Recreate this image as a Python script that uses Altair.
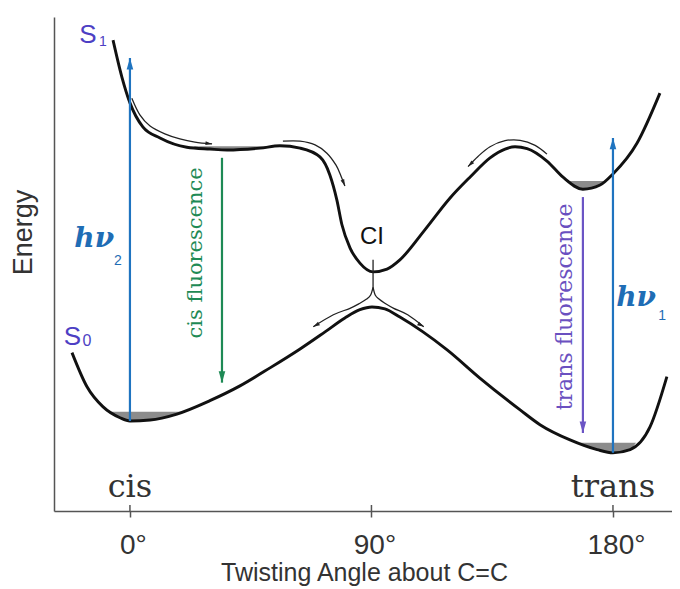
import altair as alt
import pandas as pd

# ---- potential energy curves (angle in degrees, energy in arbitrary units) ----
s1_angle = [-6.3, -3.0, 0.0, 4.8, 11.2, 21.2, 29.8, 36.2, 48.5, 55.9, 63.4, 70.8, 74.5, 77.1, 79.0,
            82.0, 85.7, 90.6, 95.8, 100.6, 109.9, 119.3, 126.7, 134.2, 139.8, 143.5, 148.0, 155.4,
            161.4, 168.8, 175.2, 180.0, 189.0, 197.5]
s1_energy = [100.0, 92.0, 86.4, 81.2, 78.8, 76.8, 76.4, 76.2, 76.6, 77.1, 76.6, 74.7, 70.8, 65.4, 60.0,
             55.0, 51.7, 49.8, 50.4, 52.4, 58.9, 65.8, 70.3, 74.5, 76.4, 76.9, 76.5, 73.8,
             70.3, 67.7, 68.6, 71.0, 77.7, 88.5]
s0_angle = [-21.6, -16.0, -10.1, -3.7, 0.0, 7.5, 17.5, 29.8, 41.0, 52.2, 63.4, 72.7, 80.1, 85.7,
            90.2, 95.0, 100.6, 109.2, 118.2, 130.4, 145.4, 152.8, 164.0, 174.1, 180.0, 186.4,
            193.8, 200.1]
s0_energy = [32.3, 24.9, 20.6, 18.2, 17.5, 17.7, 19.0, 21.9, 25.1, 29.0, 33.1, 36.8, 39.8, 41.6,
             42.2, 41.8, 40.0, 36.8, 32.9, 26.8, 19.9, 16.7, 13.4, 11.3, 10.6, 11.3,
             16.2, 27.1]

# ---- grey population wells: (angle, energy of curve, level of fill top) ----
well_s0_cis_angle = [-7.0, -3.7, 0.0, 7.5, 13.0, 17.5, 19.5]
well_s0_cis_energy = [19.5, 18.2, 17.5, 17.7, 18.2, 19.0, 19.5]
well_s0_cis_top = 19.5
well_s0_trans_angle = [167.7, 170.0, 174.1, 180.0, 184.0, 186.4, 188.6]
well_s0_trans_energy = [12.8, 12.2, 11.3, 10.6, 10.8, 11.3, 12.8]
well_s0_trans_top = 12.8
well_s1_trans_angle = [163.5, 165.5, 168.8, 172.0, 175.2, 176.8]
well_s1_trans_energy = [69.5, 68.5, 67.7, 67.8, 68.6, 69.5]
well_s1_trans_top = 69.5
well_s1_cis_angle = [24.0, 29.8, 36.2, 42.0, 48.5, 52.0]
well_s1_cis_energy = [76.7, 76.4, 76.2, 76.3, 76.6, 76.8]
well_s1_cis_top = 77.0

# ---- thin relaxation arrows ----
slide1_angle = [0.7, 3.7, 7.5, 13.0, 18.6, 24.2, 30.6]
slide1_energy = [87.4, 83.8, 81.4, 79.7, 78.6, 77.9, 77.5]
slide2_angle = [57.0, 63.4, 69.0, 73.4, 76.8, 78.6, 80.1]
slide2_energy = [78.1, 78.1, 77.3, 75.5, 72.9, 70.6, 68.4]
hump_angle = [155.4, 151.0, 145.4, 139.8, 134.2, 129.7, 126.0]
hump_energy = [75.3, 77.2, 78.3, 78.2, 76.9, 74.8, 72.6]
ci_stub_angle = [90.6, 90.6]
ci_stub_energy = [52.4, 46.5]
ci_left_angle = [90.6, 89.7, 88.2, 85.7, 82.0, 75.8, 68.3]
ci_left_energy = [46.5, 44.8, 43.9, 43.0, 41.9, 40.5, 37.9]
ci_right_angle = [90.6, 91.4, 92.8, 95.0, 98.3, 103.5, 109.5]
ci_right_energy = [46.5, 44.8, 43.9, 43.0, 41.9, 40.5, 37.9]
thin_head_angle = [30.6, 80.1, 126.0, 68.3, 109.5]
thin_head_energy = [77.5, 68.4, 72.6, 37.9, 37.9]
thin_head_dir = [97, 158, 225, 240, 120]

# ---- vertical transitions ----
vt_name = ["hv2", "cis fluorescence", "trans fluorescence", "hv1"]
vt_angle = [0.0, 34.3, 168.8, 180.0]
vt_from = [17.5, 74.5, 66.0, 10.6]
vt_to = [96.1, 25.8, 14.9, 78.8]
vt_color = ["#1f74c0", "#1e8a55", "#6b55c5", "#1f74c0"]
vt_dir = [0, 180, 180, 0]

# ---- labels ----
x_ticks = [0, 90, 180]
BLUE_TXT = "#1f6db5"
LABEL_C = "#4d3fc4"

sans_text = ["S", "1", "S", "0", "CI", "2", "1"]
sans_angle = [-15.7, -10.1, -21.4, -16.0, 90.2, -4.5, 198.3]
sans_energy = [101.1, 99.6, 35.7, 34.8, 57.4, 52.2, 40.3]
sans_size = [26, 14, 26, 16, 24, 14, 14]
sans_color = [LABEL_C, LABEL_C, LABEL_C, LABEL_C, "#111111", BLUE_TXT, BLUE_TXT]

hv_text = ["hν", "hν"]
hv_angle = [-13.3, 188.6]
hv_energy = [57.0, 44.2]

fl_text = ["cis fluorescence", "trans fluorescence"]
fl_angle = [24.6, 162.1]
fl_energy = [53.9, 42.2]
fl_size = [21, 22]
fl_color = ["#1e8a55", "#6a50c0"]

iso_text = ["cis", "trans"]
iso_angle = [0.0, 180.0]
iso_energy = [1.1, 1.1]

# ---------------------------------------------------------------
def long(groups):
    rows = []
    for g, xs_, ys_ in groups:
        for i, (a, e) in enumerate(zip(xs_, ys_)):
            rows.append({"g": g, "x": a, "E": e, "o": i})
    return pd.DataFrame(rows)

thick_df = long([("S1", s1_angle, s1_energy), ("S0", s0_angle, s0_energy)])
thin_df = long([("slide1", slide1_angle, slide1_energy), ("slide2", slide2_angle, slide2_energy),
                ("hump", hump_angle, hump_energy), ("stub", ci_stub_angle, ci_stub_energy),
                ("ciL", ci_left_angle, ci_left_energy), ("ciR", ci_right_angle, ci_right_energy)])

well_rows = []
for g, xs_, ys_, top in [("a", well_s0_cis_angle, well_s0_cis_energy, well_s0_cis_top),
                         ("b", well_s0_trans_angle, well_s0_trans_energy, well_s0_trans_top),
                         ("c", well_s1_trans_angle, well_s1_trans_energy, well_s1_trans_top),
                         ("d", well_s1_cis_angle, well_s1_cis_energy, well_s1_cis_top)]:
    for a, e in zip(xs_, ys_):
        well_rows.append({"g": g, "x": a, "E": e, "top": top})
well_df = pd.DataFrame(well_rows)

vt_df = pd.DataFrame({"name": vt_name, "x": vt_angle, "E": vt_from, "E2": vt_to,
                      "color": vt_color, "dir": vt_dir})
thin_heads_df = pd.DataFrame({"x": thin_head_angle, "E": thin_head_energy, "dir": thin_head_dir})
tick_df = pd.DataFrame({"x": x_ticks})

XD = [-28.3, 202.0]
YD = [-2.0, 105.0]
xs = alt.Scale(domain=XD, nice=False, zero=False)
ys = alt.Scale(domain=YD, nice=False, zero=False)

AXX = alt.Axis(values=x_ticks, labelExpr="datum.value + '°'", grid=False,
               labelFont="Liberation Sans", labelFontSize=28, labelColor="#333333",
               labelBaseline="alphabetic", labelPadding=36, labelOffset=3,
               tickSize=6, tickColor="#555555", tickWidth=1.5,
               domainColor="#555555", domainWidth=1.5,
               title="Twisting Angle about C=C", titleFont="Liberation Sans",
               titleFontSize=25, titleFontWeight="normal", titleColor="#333333",
               titleX=310, titleY=69, titleBaseline="alphabetic", titleAlign="center")
AXY = alt.Axis(labels=False, ticks=False, grid=False,
               domainColor="#555555", domainWidth=1.5,
               title="Energy", titleFont="Liberation Sans", titleFontSize=27,
               titleFontWeight="normal", titleColor="#333333",
               titleX=-31, titleY=215, titleAngle=270, titleBaseline="middle",
               titleAlign="center")


def X(f="x"):
    return alt.X(f"{f}:Q", scale=xs, axis=AXX)


def Y(f="E"):
    return alt.Y(f"{f}:Q", scale=ys, axis=AXY)


HEAD = "M0,0L-0.55,1.9L0.55,1.9Z"

upper_ticks = alt.Chart(tick_df).mark_rule(color="#555555", strokeWidth=1.5).encode(
    x=X(), y=alt.value(494), y2=alt.value(488))

wells = alt.Chart(well_df).mark_area(interpolate="monotone", color="#8c8c8c").encode(
    x=X(), y=Y(), y2=alt.Y2("top:Q"), detail="g:N")

thick = alt.Chart(thick_df).mark_line(interpolate="monotone", color="#111111", strokeWidth=2.9).encode(
    x=X(), y=Y(), detail="g:N", order="o:Q")

thin = alt.Chart(thin_df).mark_line(interpolate="cardinal", color="#222222", strokeWidth=1.3).encode(
    x=X(), y=Y(), detail="g:N", order="o:Q")

thin_heads = alt.Chart(thin_heads_df).mark_point(shape=HEAD, filled=True, color="#222222",
                                                  size=49, opacity=1).encode(
    x=X(), y=Y(), angle=alt.Angle("dir:Q", scale=None))

vt_lines = alt.Chart(vt_df).mark_rule(strokeWidth=2.2).encode(
    x=X(), y=Y(), y2=alt.Y2("E2:Q"), color=alt.Color("color:N", scale=None))

vt_heads = alt.Chart(vt_df).mark_point(shape=HEAD, filled=True, size=144, opacity=1).encode(
    x=X(), y=Y("E2"), angle=alt.Angle("dir:Q", scale=None), color=alt.Color("color:N", scale=None))

sans_df = pd.DataFrame({"t": sans_text, "x": sans_angle, "E": sans_energy,
                        "s": sans_size, "c": sans_color})
sans = alt.Chart(sans_df).mark_text(font="Liberation Sans", align="center", baseline="middle").encode(
    x=X(), y=Y(), text="t:N", size=alt.Size("s:Q", scale=None), color=alt.Color("c:N", scale=None))

hv_df = pd.DataFrame({"t": hv_text, "x": hv_angle, "E": hv_energy})
hv = alt.Chart(hv_df).mark_text(font="DejaVu Serif", fontStyle="italic", fontWeight="bold",
                                fontSize=28, color=BLUE_TXT, align="center", baseline="middle").encode(
    x=X(), y=Y(), text="t:N")

fl_df = pd.DataFrame({"t": fl_text, "x": fl_angle, "E": fl_energy, "s": fl_size, "c": fl_color})
fl = alt.Chart(fl_df).mark_text(font="DejaVu Serif", angle=270, align="center", baseline="middle").encode(
    x=X(), y=Y(), text="t:N", size=alt.Size("s:Q", scale=None), color=alt.Color("c:N", scale=None))

iso_df = pd.DataFrame({"t": iso_text, "x": iso_angle, "E": iso_energy})
iso = alt.Chart(iso_df).mark_text(font="DejaVu Serif", fontSize=32, color="#333333",
                                  align="center", baseline="alphabetic").encode(
    x=X(), y=Y(), text="t:N")

chart = alt.layer(upper_ticks, wells, thick, thin, thin_heads, vt_lines, vt_heads,
                  sans, hv, fl, iso).properties(
    width=618, height=494,
    autosize=alt.AutoSizeParams(type="none"),
    padding={"left": 46, "top": 9, "right": 0, "bottom": 78},
    background="white",
).configure_view(stroke=None)

chart.save("out.html", embed_options={"renderer": "svg", "actions": False})
